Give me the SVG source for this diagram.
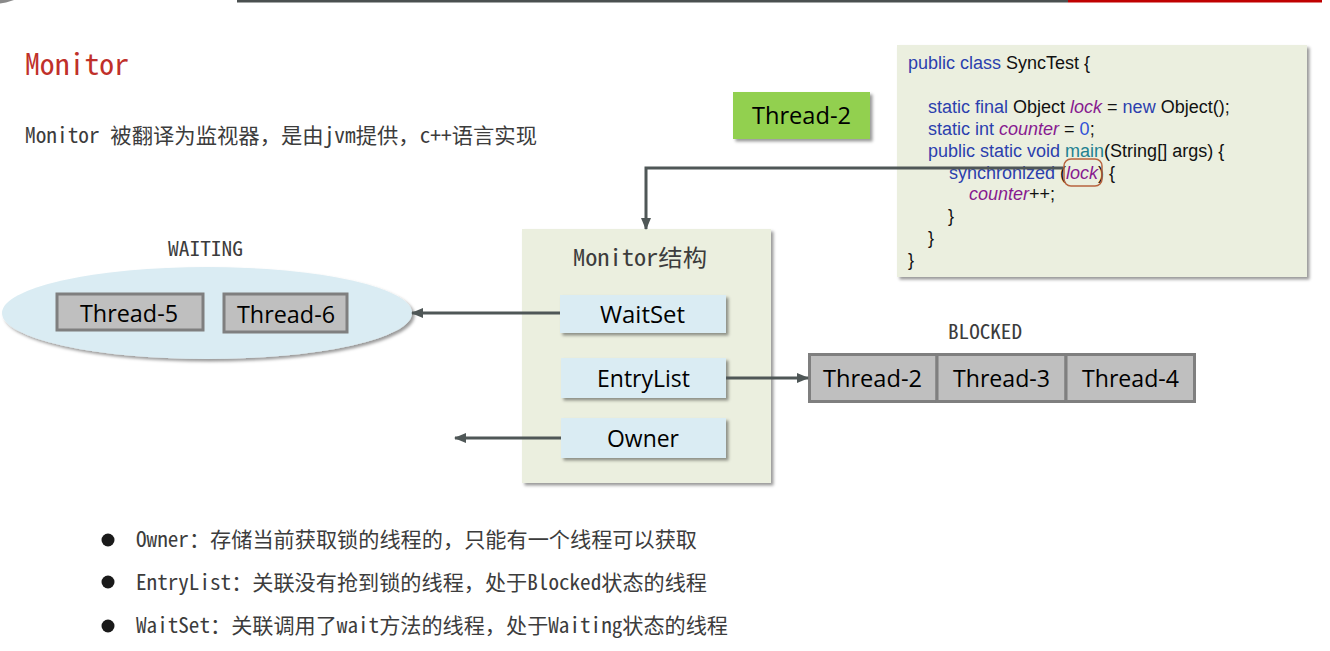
<svg xmlns="http://www.w3.org/2000/svg" width="1330" height="651" viewBox="0 0 1330 651">
  <style>
    .mono { font-family: "Noto Sans Mono CJK SC", "Liberation Mono", "Noto Sans CJK SC", monospace; fill: #3c3c3c; }
    .lbl { font-family: "Open Sans", "Liberation Sans", sans-serif; font-size: 24px; fill: #000; }
    .code { font-family: "Liberation Sans", Arial, sans-serif; font-size: 18px; fill: #111; }
    .kw { fill: #2b3fae; }
    .var { fill: #871a8f; font-style: italic; }
    .fn { fill: #1f8191; }
    .num { fill: #2f52d8; }
    .conn { fill: none; stroke: #4f5757; stroke-width: 3; }
    .gray { fill: #bfbfbf; stroke: #7f7f7f; stroke-width: 3; }
    .blue { fill: #daecf3; }
  </style>
  <defs>
    <filter id="sh" x="-10%" y="-10%" width="125%" height="130%">
      <feDropShadow dx="2.5" dy="2.5" stdDeviation="1.5" flood-color="#000" flood-opacity="0.4"/>
    </filter>
    <marker id="arr" markerUnits="userSpaceOnUse" markerWidth="12" markerHeight="12" viewBox="0 0 12 12" refX="11" refY="6" orient="auto">
      <path d="M0,1 L12,6 L0,11 Z" fill="#4f5757"/>
    </marker>
  </defs>

  <rect width="1330" height="651" fill="#ffffff"/>

  <!-- top bar -->
  <g id="topbar">
    <polygon points="0,0 14,0 6,2.5 0,3.5" fill="#8a8a8a"/>
    <rect x="237" y="0" width="831" height="2.5" fill="#4b5050"/>
    <rect x="1068" y="0" width="254" height="2.5" fill="#c00000"/>
  </g>

  <!-- headings -->
  <g id="title">
    <text class="mono" x="25" y="75" font-size="30" textLength="104" lengthAdjust="spacingAndGlyphs" style="fill:#c0302a">Monitor</text>
  </g>
  <g id="subtitle">
    <text class="mono" x="25" y="143" font-size="21" textLength="512" lengthAdjust="spacingAndGlyphs">Monitor 被翻译为监视器，是由jvm提供，c++语言实现</text>
  </g>

  <!-- code box -->
  <g id="code">
    <rect x="897" y="45" width="410" height="232" fill="#ebefdf" filter="url(#sh)"/>
    <text class="code" x="908" y="69"><tspan class="kw">public class</tspan> SyncTest {</text>
    <text class="code" x="928" y="113"><tspan class="kw">static final</tspan> Object <tspan class="var">lock</tspan> = <tspan class="kw">new</tspan> Object();</text>
    <text class="code" x="928" y="135"><tspan class="kw">static int</tspan> <tspan class="var">counter</tspan> = <tspan class="num">0</tspan>;</text>
    <text class="code" x="928" y="157"><tspan class="kw">public static void</tspan> <tspan class="fn">main</tspan>(String[] args) {</text>
    <text class="code" x="949" y="179"><tspan class="kw">synchronized</tspan> (<tspan class="var">lock</tspan>) {</text>
    <text class="code" x="969" y="200"><tspan class="var">counter</tspan>++;</text>
    <text class="code" x="948" y="222">}</text>
    <text class="code" x="928" y="244">}</text>
    <text class="code" x="908" y="266">}</text>
    <rect x="1064" y="159" width="38" height="27" rx="7" fill="none" stroke="#b8643f" stroke-width="1.5"/>
  </g>

  <!-- Thread-2 (green) -->
  <g id="thread2-green">
    <rect x="733" y="92" width="137" height="47" fill="#92d050" filter="url(#sh)"/>
    <text class="lbl" x="752" y="124" textLength="99" lengthAdjust="spacingAndGlyphs">Thread-2</text>
  </g>

  <!-- WAITING set -->
  <g id="waiting">
    <text class="mono" x="168" y="256" font-size="20" textLength="75" lengthAdjust="spacingAndGlyphs">WAITING</text>
    <ellipse cx="207" cy="313" rx="205" ry="46" fill="#daecf3" filter="url(#sh)"/>
  </g>
  <g id="thread5">
    <rect class="gray" x="57" y="294" width="146" height="36"/>
    <text class="lbl" x="80" y="322" textLength="98" lengthAdjust="spacingAndGlyphs">Thread-5</text>
  </g>
  <g id="thread6">
    <rect class="gray" x="224" y="294" width="123" height="38"/>
    <text class="lbl" x="237" y="323" textLength="98" lengthAdjust="spacingAndGlyphs">Thread-6</text>
  </g>

  <!-- Monitor structure -->
  <g id="monitor">
    <rect x="522" y="229" width="249" height="254" fill="#ebefdf" filter="url(#sh)"/>
    <text class="mono" x="573" y="266" font-size="23" textLength="134" lengthAdjust="spacingAndGlyphs">Monitor结构</text>
  </g>
  <g id="waitset">
    <rect class="blue" x="560" y="295" width="166" height="38" filter="url(#sh)"/>
    <text class="lbl" x="600" y="323" textLength="85" lengthAdjust="spacingAndGlyphs">WaitSet</text>
  </g>
  <g id="entrylist">
    <rect class="blue" x="561" y="358" width="165" height="40" filter="url(#sh)"/>
    <text class="lbl" x="597" y="387" textLength="93" lengthAdjust="spacingAndGlyphs">EntryList</text>
  </g>
  <g id="owner">
    <rect class="blue" x="561" y="418" width="165" height="40" filter="url(#sh)"/>
    <text class="lbl" x="607" y="447" textLength="72" lengthAdjust="spacingAndGlyphs">Owner</text>
  </g>

  <!-- BLOCKED list -->
  <g id="blocked">
    <text class="mono" x="948" y="339" font-size="20" textLength="74" lengthAdjust="spacingAndGlyphs">BLOCKED</text>
  </g>
  <g id="blocked-thread2">
    <rect class="gray" x="809.5" y="354.5" width="127.5" height="47"/>
    <text class="lbl" x="823" y="387" textLength="99" lengthAdjust="spacingAndGlyphs">Thread-2</text>
  </g>
  <g id="blocked-thread3">
    <rect class="gray" x="937" y="354.5" width="129" height="47"/>
    <text class="lbl" x="953" y="387" textLength="97" lengthAdjust="spacingAndGlyphs">Thread-3</text>
  </g>
  <g id="blocked-thread4">
    <rect class="gray" x="1066" y="354.5" width="128.5" height="47"/>
    <text class="lbl" x="1082" y="387" textLength="97" lengthAdjust="spacingAndGlyphs">Thread-4</text>
  </g>

  <!-- connectors -->
  <g id="connectors">
    <path class="conn" d="M1063,168 H646 V229" marker-end="url(#arr)"/>
    <path class="conn" d="M560,313 H412" marker-end="url(#arr)"/>
    <path class="conn" d="M726,378 H808" marker-end="url(#arr)"/>
    <path class="conn" d="M561,438 H455" marker-end="url(#arr)"/>
  </g>

  <!-- bullet notes -->
  <g id="notes">
    <circle cx="108" cy="540" r="6.5" fill="#1a1a1a"/>
    <circle cx="108" cy="582" r="6.5" fill="#1a1a1a"/>
    <circle cx="108" cy="626" r="6.5" fill="#1a1a1a"/>
    <text class="mono" x="136" y="547" font-size="21" textLength="561" lengthAdjust="spacingAndGlyphs">Owner：存储当前获取锁的线程的，只能有一个线程可以获取</text>
    <text class="mono" x="136" y="590" font-size="21" textLength="571" lengthAdjust="spacingAndGlyphs">EntryList：关联没有抢到锁的线程，处于Blocked状态的线程</text>
    <text class="mono" x="136" y="633" font-size="21" textLength="592" lengthAdjust="spacingAndGlyphs">WaitSet：关联调用了wait方法的线程，处于Waiting状态的线程</text>
  </g>
</svg>
